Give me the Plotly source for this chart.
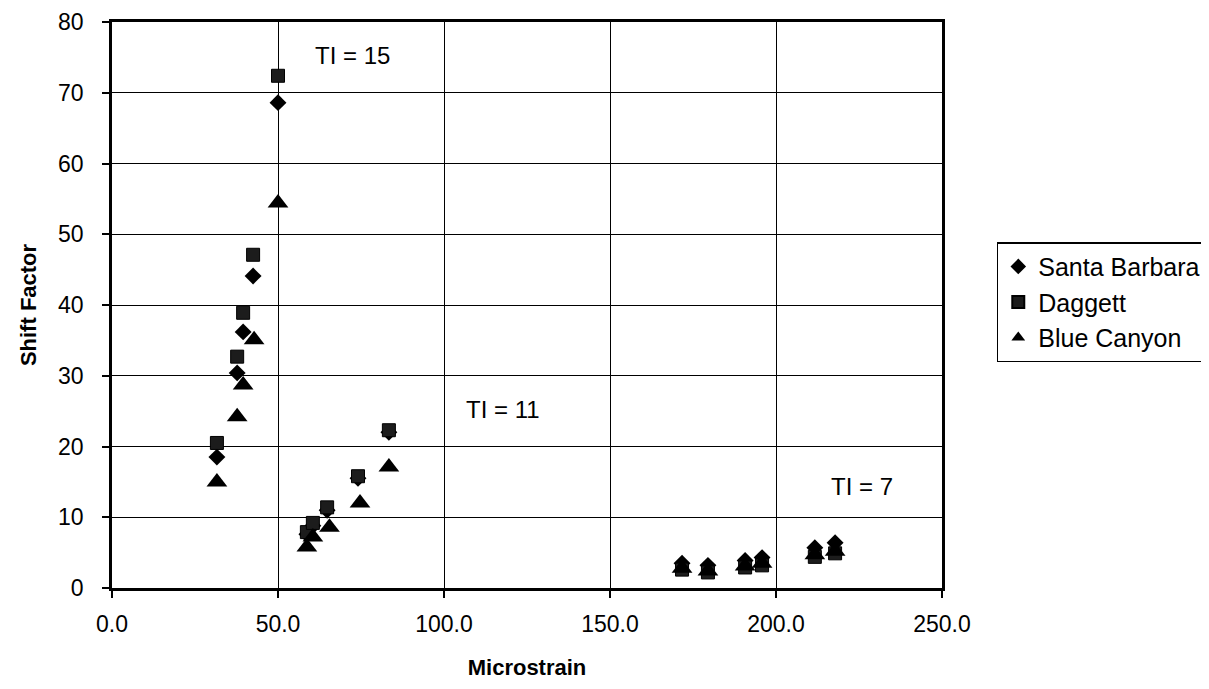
import plotly.graph_objects as go

# Data
sb_x = [31.6, 37.7, 39.5, 42.5, 50.0, 58.7, 60.5, 64.8, 74.1, 83.4, 171.7, 179.5, 190.7, 195.8, 211.7, 217.8]
sb_y = [18.5, 30.4, 36.2, 44.1, 68.6, 7.6, 8.8, 11.0, 15.5, 22.0, 3.5, 3.2, 3.9, 4.3, 5.7, 6.4]

dg_x = [31.6, 37.7, 39.5, 42.5, 50.0, 58.7, 60.5, 64.8, 74.1, 83.4, 171.7, 179.5, 190.7, 195.8, 211.7, 217.8]
dg_y = [20.5, 32.7, 38.9, 47.1, 72.4, 7.9, 9.2, 11.4, 15.8, 22.3, 2.6, 2.2, 2.9, 3.2, 4.4, 4.9]

bc_x = [31.6, 37.7, 39.5, 42.8, 50.0, 58.7, 60.5, 65.5, 74.7, 83.4, 171.7, 179.5, 190.7, 195.8, 211.7, 217.8]
bc_y = [15.0, 24.2, 28.7, 35.1, 54.4, 5.8, 7.2, 8.6, 12.0, 17.1, 2.8, 2.4, 3.1, 3.5, 4.7, 5.2]

x_ticks = [0, 50, 100, 150, 200, 250]
x_tick_labels = ["0.0", "50.0", "100.0", "150.0", "200.0", "250.0"]
y_ticks = [0, 10, 20, 30, 40, 50, 60, 70, 80]

labels = ["TI = 15", "TI = 11", "TI = 7"]
label_x = [72.3, 117.8, 226.0]
label_y = [75.3, 25.2, 14.3]

FONT = "Liberation Sans, Arial, sans-serif"

fig = go.Figure()
fig.add_trace(go.Scatter(x=sb_x, y=sb_y, mode="markers", name="Santa Barbara",
                         marker=dict(symbol="diamond", size=13, color="black")))
fig.add_trace(go.Scatter(x=dg_x, y=dg_y, mode="markers", name="Daggett",
                         marker=dict(symbol="square", size=13, color="#1c1c1c",
                                     line=dict(color="black", width=1))))
fig.add_trace(go.Scatter(x=bc_x, y=bc_y, mode="markers", name="Blue Canyon",
                         marker=dict(symbol="triangle-up", size=18, color="black")))

for t, xx, yy in zip(labels, label_x, label_y):
    fig.add_annotation(x=xx, y=yy, text=t, showarrow=False,
                       font=dict(size=24, color="black", family=FONT))

fig.update_layout(
    width=1209, height=689,
    margin=dict(l=104, r=275, t=14, b=109, autoexpand=False),
    paper_bgcolor="white", plot_bgcolor="white",
    font=dict(family=FONT, color="black", size=23),
    showlegend=True,
    legend=dict(x=1.066, y=0.611, xanchor="left", yanchor="top",
                bordercolor="black", borderwidth=1.5, bgcolor="white",
                font=dict(size=25, family=FONT), itemsizing="constant",
                tracegroupgap=0),
)
fig.update_xaxes(range=[0, 250], tickvals=x_ticks, ticktext=x_tick_labels,
                 automargin=False,
                 showgrid=True, gridcolor="black", gridwidth=1.3,
                 showline=True, linecolor="black", linewidth=2.5, mirror=True,
                 ticks="outside", ticklen=7, tickcolor="black", tickwidth=1.5,
                 ticklabelstandoff=7,
                 zeroline=False,
                 title=dict(text="<b>Microstrain</b>", font=dict(size=22, family=FONT), standoff=24),
                 tickfont=dict(size=23, family=FONT))
fig.update_yaxes(range=[0, 80], tickvals=y_ticks,
                 automargin=False,
                 showgrid=True, gridcolor="black", gridwidth=1.3,
                 showline=True, linecolor="black", linewidth=2.5, mirror=True,
                 ticks="outside", ticklen=7, tickcolor="black", tickwidth=1.5,
                 ticklabelstandoff=14,
                 zeroline=False,
                 title=dict(text="<b>Shift Factor</b>", font=dict(size=22, family=FONT), standoff=16),
                 tickfont=dict(size=23, family=FONT))

fig.write_html("out.html")
